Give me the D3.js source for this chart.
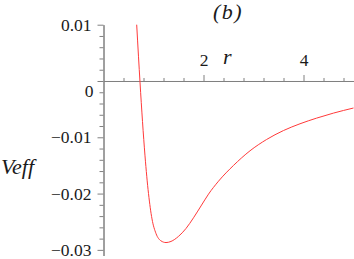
<!DOCTYPE html>
<html><head><meta charset="utf-8">
<script src="https://cdn.jsdelivr.net/npm/d3@7"></script>
<style>
html,body{margin:0;padding:0;background:#fff;overflow:hidden}
svg{display:block}
</style></head>
<body>
<svg id="c" width="354" height="259"></svg>
<script>
const rValues = [0.664, 0.70, 0.73, 0.78, 0.83, 0.90, 0.97, 1.05, 1.15, 1.25, 1.35, 1.50, 1.65, 1.80, 1.95, 2.10, 2.30, 2.60, 2.93, 3.26, 3.60, 3.93, 4.26, 4.60, 5.00];
const vValues = [0.0100, 0.0043, -0.0002, -0.0072, -0.0133, -0.0200, -0.0245, -0.0271, -0.0284, -0.0287, -0.0285, -0.0276, -0.0262, -0.0243, -0.0222, -0.0201, -0.0178, -0.0150, -0.0124, -0.0104, -0.0088, -0.0076, -0.0066, -0.0057, -0.0048];
const yTickLabels = [0.01, 0, -0.01, -0.02, -0.03];
const xTickLabels = [2, 4];
const title = "(b)";
const xLabel = "r";
const yLabel = "Veff";

const svg = d3.select("#c");
const x = d3.scaleLinear().domain([0, 5]).range([103.5, 353.5]);
const y = d3.scaleLinear().domain([-0.031, 0.01]).range([255.5, 24.7]);
const axisColor = "#808080";
const font = '"Liberation Serif", "Times New Roman", serif';

// x axis (at y = 0), ticks upward
const gx = svg.append("g").attr("transform", `translate(0,${y(0)})`);
const xMinor = d3.range(0.4, 5.01, 0.4).filter(v => Math.abs(v - 2) > 1e-6 && Math.abs(v - 4) > 1e-6);
gx.call(d3.axisTop(x).tickValues(xMinor).tickSize(3).tickFormat("").tickSizeOuter(0));
gx.append("g").call(d3.axisTop(x).tickValues(xTickLabels).tickSize(6).tickPadding(9).tickSizeOuter(0).tickFormat(d3.format("d")));
gx.selectAll("path.domain").attr("stroke", axisColor);
gx.selectAll(".tick line").attr("stroke", axisColor);
gx.selectAll(".tick text").style("font-family", font).style("font-size", "17.5px").attr("fill", "#1a1a1a");

// y axis (at x = 0), ticks left
const gy = svg.append("g").attr("transform", `translate(${x(0)},0)`);
const yMinor = d3.range(-0.030, 0.0101, 0.002).filter(v => !yTickLabels.some(t => Math.abs(t - v) < 1e-9));
gy.call(d3.axisLeft(y).tickValues(yMinor).tickSize(4).tickFormat("").tickSizeOuter(0));
const gyMaj = gy.append("g").call(d3.axisLeft(y).tickValues(yTickLabels).tickSize(6).tickPadding(6).tickSizeOuter(0)
  .tickFormat(d => d === 0 ? "0" : d3.format(".2f")(d)));
gy.selectAll("path.domain").attr("stroke", axisColor);
gy.selectAll(".tick line").attr("stroke", axisColor);
gyMaj.selectAll(".tick text").style("font-family", font).style("font-size", "17.5px").attr("fill", "#1a1a1a");
gyMaj.selectAll(".tick").filter(d => d === 0).select("text").attr("x", -10).attr("dy", "0.9em");

// curve
const pts = rValues.map((r, i) => [r, vValues[i]]);
svg.append("path")
  .datum(pts)
  .attr("fill", "none")
  .attr("stroke", "#ff3a3a")
  .attr("stroke-width", 1)
  .attr("d", d3.line().x(d => x(d[0])).y(d => y(d[1])).curve(d3.curveMonotoneX));

// labels
function label(t, xx, yy, anchor, ls, size) {
  svg.append("text").attr("x", xx).attr("y", yy).attr("text-anchor", anchor)
    .style("font-family", font).style("font-style", "italic").style("font-size", size + "px")
    .style("letter-spacing", ls + "px").attr("fill", "#1a1a1a").text(t);
}
label(title, 213, 19, "start", 1.5, 22);
label(xLabel, 223, 64, "start", 0, 22);
label(yLabel, 1, 174, "start", 0, 22);
</script>
</body></html>
